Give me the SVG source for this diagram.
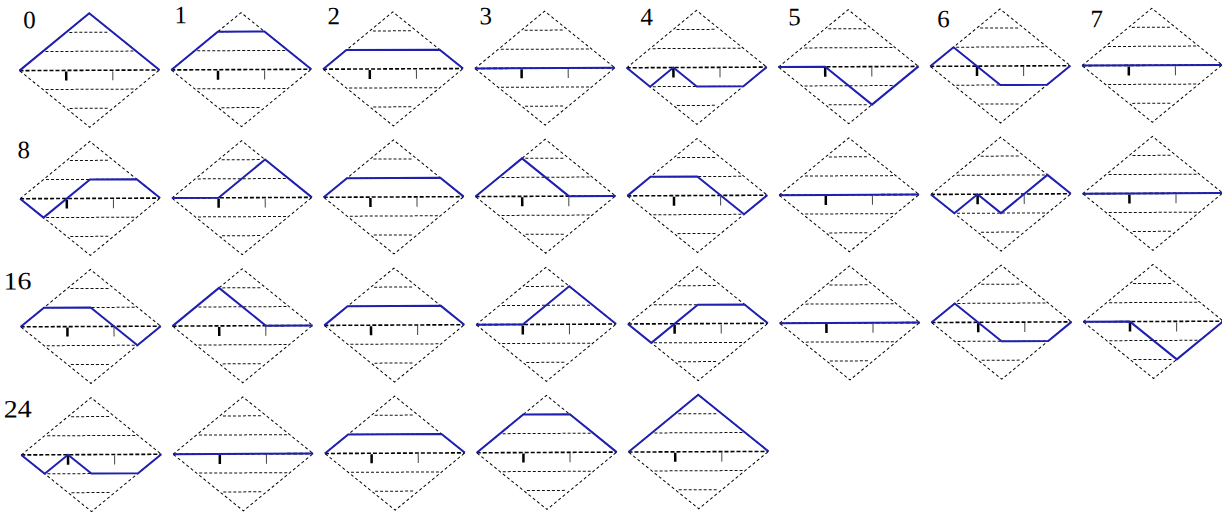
<svg xmlns="http://www.w3.org/2000/svg" xmlns:xlink="http://www.w3.org/1999/xlink" width="1222" height="512" viewBox="0 0 1222 512">
<style>
.dia{fill:none;stroke:#000;stroke-width:1;stroke-dasharray:3 2.5}
.h{stroke:#111;stroke-width:1;stroke-dasharray:3 2}
.mid{stroke:#000;stroke-width:1.6;stroke-dasharray:4 2}
.tk1{stroke:#000;stroke-width:2.5}
.tk2{stroke:#444;stroke-width:1}
.p{fill:none;stroke:#1f1fb0;stroke-width:2;stroke-linejoin:miter}
.lb{font-family:"Liberation Serif",serif;font-size:25px;fill:#000}
</style>
<defs>
<g id="bg">
<path class="dia" d="M-70,0 L0,-57 L70,0 L0,57 Z"/>
<line class="h" x1="-20" y1="-38" x2="20" y2="-38"/>
<line class="h" x1="-44" y1="-19" x2="44" y2="-19"/>
<line class="h" x1="-44" y1="19" x2="44" y2="19"/>
<line class="h" x1="-20" y1="38" x2="20" y2="38"/>
<line class="mid" x1="-70" y1="0" x2="70" y2="0"/>
<line class="tk1" x1="-23.3" y1="1" x2="-23.3" y2="10"/>
<line class="tk2" x1="23.3" y1="1" x2="23.3" y2="10"/>
</g>
</defs>
<rect width="1222" height="512" fill="#fff"/>
<g id="diagram" transform="rotate(-0.27 89.5 70.3)">
<g id="n0" transform="translate(89.5,70.3)"><use href="#bg"/><polyline class="p" points="-70,0 0,-57 70,0"/><text class="lb" x="-66" y="-42.3">0</text></g>
<g id="n1" transform="translate(241.3,70.3)"><use href="#bg"/><polyline class="p" points="-70,0 -23.33,-38 23.33,-38 70,0"/><text class="lb" x="-66.5" y="-46.6">1</text></g>
<g id="n2" transform="translate(393.1,70.3)"><use href="#bg"/><polyline class="p" points="-70,0 -46.67,-19 46.67,-19 70,0"/><text class="lb" x="-65.5" y="-44.9">2</text></g>
<g id="n3" transform="translate(544.9,70.3)"><use href="#bg"/><polyline class="p" points="-70,0 70,0"/><text class="lb" x="-65.3" y="-44.2">3</text></g>
<g id="n4" transform="translate(696.7,70.3)"><use href="#bg"/><polyline class="p" points="-70,0 -46.67,19 -23.33,0 0,19 46.67,19 70,0"/><text class="lb" x="-56" y="-42.4">4</text></g>
<g id="n5" transform="translate(848.5,70.3)"><use href="#bg"/><polyline class="p" points="-70,0 -23.33,0 23.33,38 70,0"/><text class="lb" x="-60" y="-41.7">5</text></g>
<g id="n6" transform="translate(1000.3,70.3)"><use href="#bg"/><polyline class="p" points="-70,0 -46.67,-19 0,19 46.67,19 70,0"/><text class="lb" x="-62.8" y="-39">6</text></g>
<g id="n7" transform="translate(1152.1,70.3)"><use href="#bg"/><polyline class="p" points="-70,0 70,0"/><text class="lb" x="-61.5" y="-38.3">7</text></g>

<g id="n8" transform="translate(89.5,198.4)"><use href="#bg"/><polyline class="p" points="-70,0 -46.67,19 0,-19 46.67,-19 70,0"/><text class="lb" x="-72.5" y="-40.4">8</text></g>
<g id="n9" transform="translate(241.3,198.4)"><use href="#bg"/><polyline class="p" points="-70,0 -23.33,0 23.33,-38 70,0"/></g>
<g id="n10" transform="translate(393.1,198.4)"><use href="#bg"/><polyline class="p" points="-70,0 -46.67,-19 46.67,-19 70,0"/></g>
<g id="n11" transform="translate(544.9,198.4)"><use href="#bg"/><polyline class="p" points="-70,0 -23.33,-38 23.33,0 70,0"/></g>
<g id="n12" transform="translate(696.7,198.4)"><use href="#bg"/><polyline class="p" points="-70,0 -46.67,-19 0,-19 46.67,19 70,0"/></g>
<g id="n13" transform="translate(848.5,198.4)"><use href="#bg"/><polyline class="p" points="-70,0 70,0"/></g>
<g id="n14" transform="translate(1000.3,198.4)"><use href="#bg"/><polyline class="p" points="-70,0 -46.67,19 -23.33,0 0,19 46.67,-19 70,0"/></g>
<g id="n15" transform="translate(1152.1,198.4)"><use href="#bg"/><polyline class="p" points="-70,0 70,0"/></g>

<g id="n16" transform="translate(89.5,326.5)"><use href="#bg"/><polyline class="p" points="-70,0 -46.67,-19 0,-19 46.67,19 70,0"/><text class="lb" x="-87" y="-37.5" textLength="28" lengthAdjust="spacingAndGlyphs">16</text></g>
<g id="n17" transform="translate(241.3,326.5)"><use href="#bg"/><polyline class="p" points="-70,0 -23.33,-38 23.33,0 70,0"/></g>
<g id="n18" transform="translate(393.1,326.5)"><use href="#bg"/><polyline class="p" points="-70,0 -46.67,-19 46.67,-19 70,0"/></g>
<g id="n19" transform="translate(544.9,326.5)"><use href="#bg"/><polyline class="p" points="-70,0 -23.33,0 23.33,-38 70,0"/></g>
<g id="n20" transform="translate(696.7,326.5)"><use href="#bg"/><polyline class="p" points="-70,0 -46.67,19 0,-19 46.67,-19 70,0"/></g>
<g id="n21" transform="translate(848.5,326.5)"><use href="#bg"/><polyline class="p" points="-70,0 70,0"/></g>
<g id="n22" transform="translate(1000.3,326.5)"><use href="#bg"/><polyline class="p" points="-70,0 -46.67,-19 0,19 46.67,19 70,0"/></g>
<g id="n23" transform="translate(1152.1,326.5)"><use href="#bg"/><polyline class="p" points="-70,0 -23.33,0 23.33,38 70,0"/></g>

<g id="n24" transform="translate(89.5,454.6)"><use href="#bg"/><polyline class="p" points="-70,0 -46.67,19 -23.33,0 0,19 46.67,19 70,0"/><text class="lb" x="-87.5" y="-37.6" textLength="28" lengthAdjust="spacingAndGlyphs">24</text></g>
<g id="n25" transform="translate(241.3,454.6)"><use href="#bg"/><polyline class="p" points="-70,0 70,0"/></g>
<g id="n26" transform="translate(393.1,454.6)"><use href="#bg"/><polyline class="p" points="-70,0 -46.67,-19 46.67,-19 70,0"/></g>
<g id="n27" transform="translate(544.9,454.6)"><use href="#bg"/><polyline class="p" points="-70,0 -23.33,-38 23.33,-38 70,0"/></g>
<g id="n28" transform="translate(696.7,454.6)"><use href="#bg"/><polyline class="p" points="-70,0 0,-57 70,0"/></g>
<g id="connectors"/>
</g>
</svg>
